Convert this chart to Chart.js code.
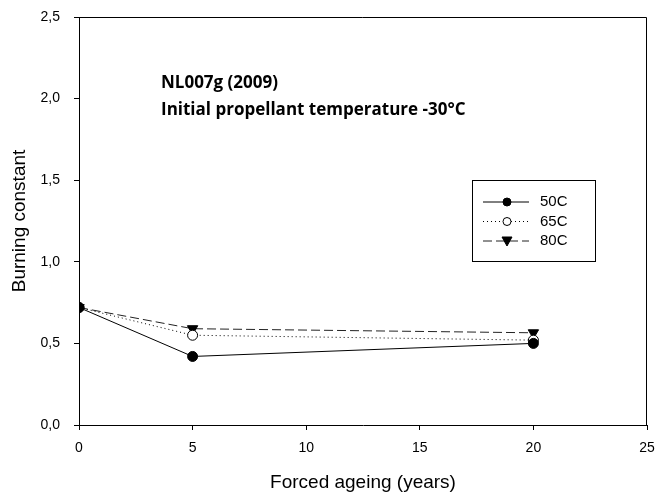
<!DOCTYPE html>
<html>
<head>
<meta charset="utf-8">
<script src="https://cdn.jsdelivr.net/npm/chart.js@4"></script>
<style>
  html, body { margin: 0; padding: 0; background: #fff; }
  #wrap { width: 657px; height: 500px; }
</style>
</head>
<body>
<div id="wrap"><canvas id="chart"></canvas></div>
<script>
const years = [0, 5, 20];
const temp50 = [0.72, 0.42, 0.50];
const temp65 = [0.72, 0.55, 0.52];
const temp80 = [0.72, 0.59, 0.565];
const seriesNames = ['50C', '65C', '80C'];
const titleLines = ['NL007g (2009)', 'Initial propellant temperature -30°C'];

const toPoints = vals => years.map((x, i) => ({ x: x, y: vals[i] }));

// frame on top and right plus the text inside the plot
const boxPlugin = {
  id: 'box',
  afterDraw(chart) {
    const { ctx, chartArea: a } = chart;
    ctx.save();
    ctx.strokeStyle = '#000';
    ctx.lineWidth = 1;
    ctx.beginPath();
    ctx.moveTo(a.left, a.top + 0.5);
    ctx.lineTo(a.right - 0.5, a.top + 0.5);
    ctx.lineTo(a.right - 0.5, a.bottom);
    ctx.stroke();

    // heading
    ctx.fillStyle = '#000';
    ctx.font = 'bold 17px "Open Sans", "Liberation Sans", sans-serif';
    ctx.textBaseline = 'alphabetic';
    ctx.fillText(titleLines[0], 161, 88);
    ctx.fillText(titleLines[1], 161, 115);

    // legend
    const lx = 472, ly = 180, lw = 123, lh = 81;
    ctx.fillStyle = '#fff';
    ctx.fillRect(lx, ly, lw, lh);
    ctx.strokeRect(lx + 0.5, ly + 0.5, lw, lh);
    ctx.textBaseline = 'middle';
    chart.data.datasets.forEach((ds, i) => {
      const y = 202 + i * 19.5;
      ctx.save();
      ctx.strokeStyle = ds.borderColor;
      ctx.lineWidth = ds.borderWidth;
      ctx.setLineDash(ds.borderDash || []);
      ctx.beginPath();
      ctx.moveTo(483, y);
      ctx.lineTo(529, y);
      ctx.stroke();
      ctx.restore();
      const r = 4;
      ctx.fillStyle = ds.pointBackgroundColor;
      ctx.strokeStyle = '#000';
      ctx.beginPath();
      if (ds.pointStyle === 'triangle') {
        ctx.moveTo(507 - r - 1, y - r);
        ctx.lineTo(507 + r + 1, y - r);
        ctx.lineTo(507, y + r + 1);
        ctx.closePath();
      } else {
        ctx.arc(507, y, r, 0, Math.PI * 2);
      }
      ctx.fill();
      ctx.stroke();
      ctx.fillStyle = '#000';
      ctx.font = '15px "Liberation Sans", Arial, sans-serif';
      ctx.fillText(ds.label, 540, y);
    });
    ctx.restore();
  }
};

const axisFont = { family: '"Liberation Sans", Arial, sans-serif', size: 14 };
const titleFont = { family: '"Liberation Sans", Arial, sans-serif', size: 19 };

new Chart(document.getElementById('chart'), {
  type: 'scatter',
  data: {
    datasets: [
      {
        label: seriesNames[0],
        data: toPoints(temp50),
        showLine: true,
        borderColor: '#000',
        borderWidth: 1,
        pointStyle: 'circle',
        pointRadius: 5,
        pointBackgroundColor: '#000',
        pointBorderColor: '#000'
      },
      {
        label: seriesNames[1],
        data: toPoints(temp65),
        showLine: true,
        borderColor: '#000',
        borderWidth: 1,
        borderDash: [1, 3],
        pointStyle: 'circle',
        pointRadius: 5,
        pointBackgroundColor: '#fff',
        pointBorderColor: '#000'
      },
      {
        label: seriesNames[2],
        data: toPoints(temp80),
        showLine: true,
        borderColor: '#222',
        borderWidth: 1,
        borderDash: [9, 4],
        pointStyle: 'triangle',
        rotation: 180,
        pointRadius: 6,
        pointBackgroundColor: '#000',
        pointBorderColor: '#000'
      }
    ]
  },
  options: {
    responsive: true,
    maintainAspectRatio: false,
    animation: false,
    layout: { padding: { top: 17, right: 0, left: 0, bottom: 0 } },
    scales: {
      x: {
        type: 'linear',
        min: 0,
        max: 25,
        ticks: { stepSize: 5, color: '#000', font: axisFont, padding: 10 },
        grid: { drawOnChartArea: false, drawTicks: true, tickLength: 5, color: '#000' },
        border: { display: true, color: '#000' },
        title: { display: true, text: 'Forced ageing (years)', color: '#000', font: titleFont, padding: { top: 10, bottom: 6 } },
        afterFit(scale) { scale.height = 75; scale.paddingRight = 10; }
      },
      y: {
        min: 0,
        max: 2.5,
        ticks: {
          stepSize: 0.5,
          color: '#000',
          font: axisFont,
          padding: 14,
          callback: v => v.toFixed(1).replace('.', ',')
        },
        grid: { drawOnChartArea: false, drawTicks: true, tickLength: 5, color: '#000' },
        border: { display: true, color: '#000' },
        title: { display: true, text: 'Burning constant', color: '#000', font: titleFont, padding: { bottom: 0, top: 8 } },
        afterFit(scale) { scale.width = 79; scale.paddingTop = 0; scale.paddingBottom = 0; }
      }
    },
    plugins: {
      legend: { display: false },
      tooltip: { enabled: false }
    }
  },
  plugins: [boxPlugin]
});
</script>
</body>
</html>
